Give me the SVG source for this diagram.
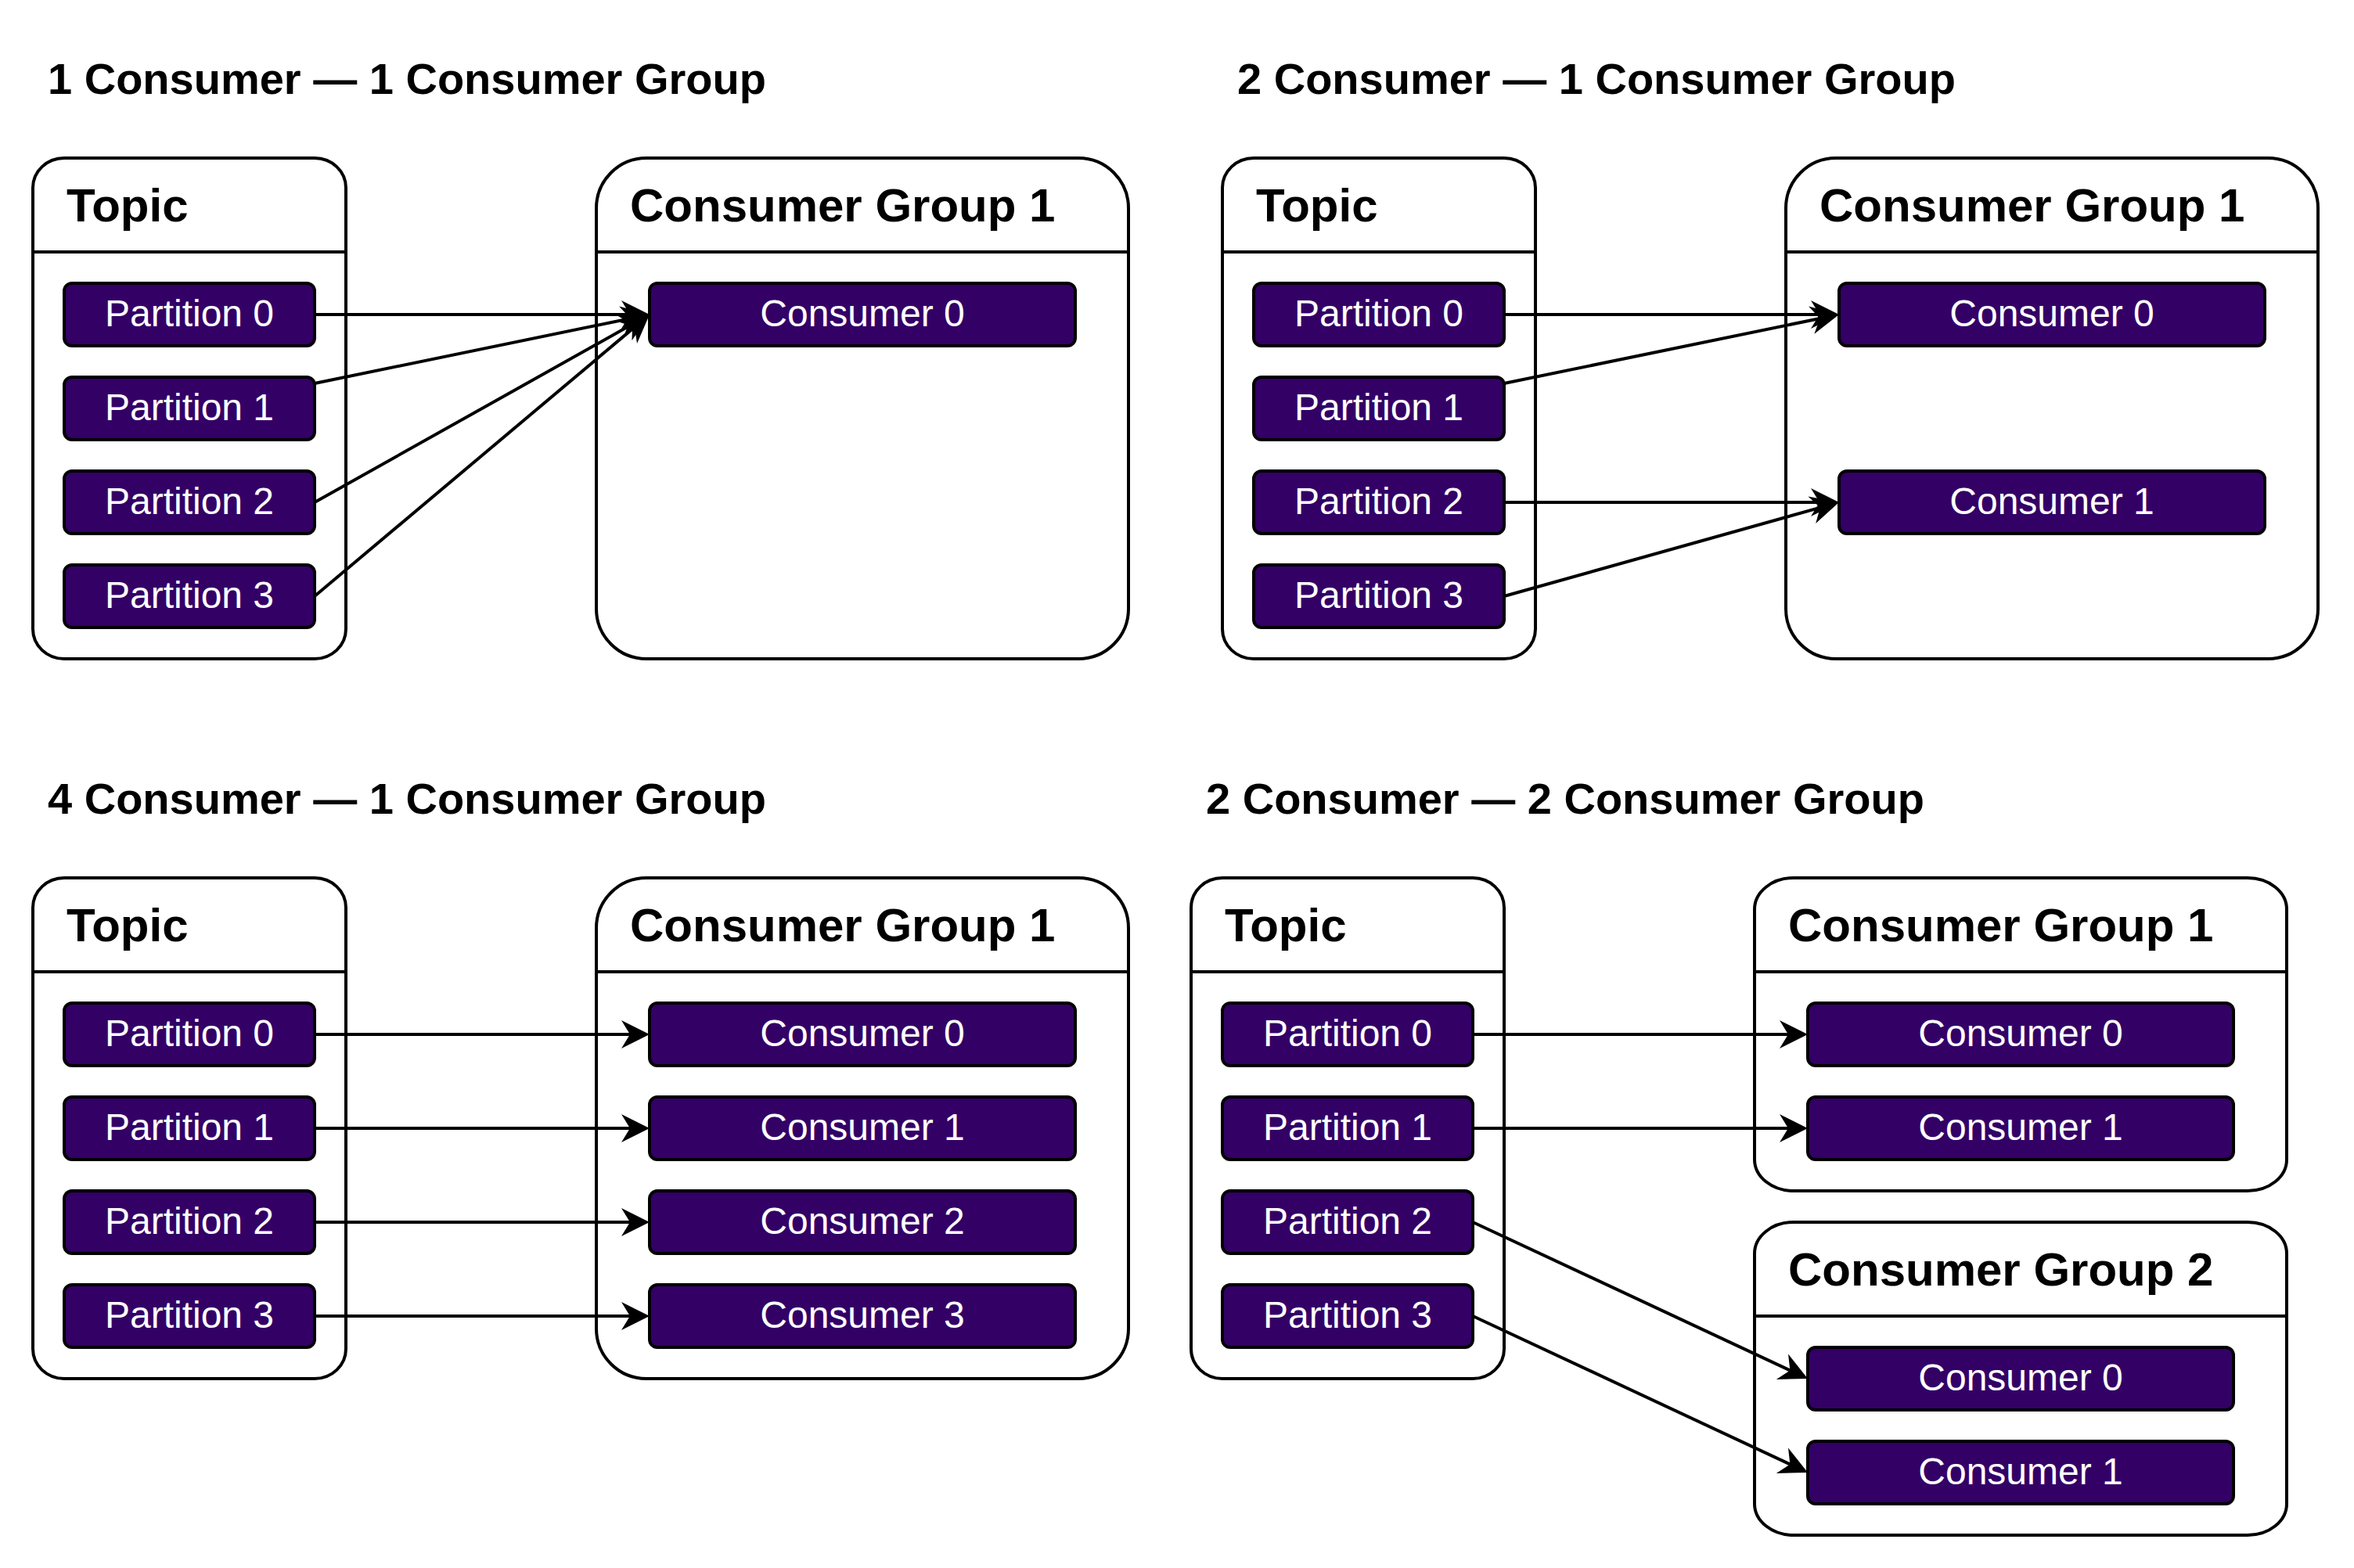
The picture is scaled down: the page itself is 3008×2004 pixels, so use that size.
<svg xmlns="http://www.w3.org/2000/svg" width="3008" height="2004" viewBox="0 0 3008 2004">
<defs>
<style>
.title{font-family:"Liberation Sans",Arial,sans-serif;font-weight:bold;font-size:56px;fill:#000}
.hdr{font-family:"Liberation Sans",Arial,sans-serif;font-weight:bold;font-size:60px;fill:#000}
.frame{fill:#fff;stroke:#000;stroke-width:4}
.sep{stroke:#000;stroke-width:4}
.item{fill:#330066;stroke:#000;stroke-width:4}
.lbl{font-family:"Liberation Sans",Arial,sans-serif;font-size:48px;fill:#fff;text-anchor:middle}
.edge{fill:none;stroke:#000;stroke-width:4}
</style>
<marker id="arr" markerUnits="userSpaceOnUse" markerWidth="60" markerHeight="60" viewBox="-30 -30 60 60" refX="0" refY="0" orient="auto" overflow="visible">
<path d="M20,0 L-16,-18 L-5,0 L-16,18 Z" fill="#000"/>
</marker>
</defs>
<rect width="3008" height="2004" fill="#fff"/>

<!-- Panel 1 -->
<text id="title1" class="title" x="61" y="120">1 Consumer — 1 Consumer Group</text>
<g id="p1-topic">
<rect class="frame" x="42" y="202" width="400" height="640" rx="40" ry="38"/>
<line class="sep" x1="42" y1="322" x2="442" y2="322"/>
<text class="hdr" x="85" y="283">Topic</text>
</g>
<g id="p1-part0"><rect class="item" x="82" y="362" width="320" height="80" rx="10"/><text class="lbl" x="242" y="417">Partition 0</text></g>
<g id="p1-part1"><rect class="item" x="82" y="482" width="320" height="80" rx="10"/><text class="lbl" x="242" y="537">Partition 1</text></g>
<g id="p1-part2"><rect class="item" x="82" y="602" width="320" height="80" rx="10"/><text class="lbl" x="242" y="657">Partition 2</text></g>
<g id="p1-part3"><rect class="item" x="82" y="722" width="320" height="80" rx="10"/><text class="lbl" x="242" y="777">Partition 3</text></g>
<g id="p1-cg1">
<rect class="frame" x="762" y="202" width="680" height="640" rx="64" ry="64"/>
<line class="sep" x1="762" y1="322" x2="1442" y2="322"/>
<text class="hdr" x="805" y="283">Consumer Group 1</text>
</g>
<g id="p1-cons0"><rect class="item" x="830" y="362" width="544" height="80" rx="10"/><text class="lbl" x="1102" y="417">Consumer 0</text></g>

<!-- Panel 2 -->
<text id="title2" class="title" x="1581" y="120">2 Consumer — 1 Consumer Group</text>
<g id="p2-topic">
<rect class="frame" x="1562" y="202" width="400" height="640" rx="40" ry="38"/>
<line class="sep" x1="1562" y1="322" x2="1962" y2="322"/>
<text class="hdr" x="1605" y="283">Topic</text>
</g>
<g id="p2-part0"><rect class="item" x="1602" y="362" width="320" height="80" rx="10"/><text class="lbl" x="1762" y="417">Partition 0</text></g>
<g id="p2-part1"><rect class="item" x="1602" y="482" width="320" height="80" rx="10"/><text class="lbl" x="1762" y="537">Partition 1</text></g>
<g id="p2-part2"><rect class="item" x="1602" y="602" width="320" height="80" rx="10"/><text class="lbl" x="1762" y="657">Partition 2</text></g>
<g id="p2-part3"><rect class="item" x="1602" y="722" width="320" height="80" rx="10"/><text class="lbl" x="1762" y="777">Partition 3</text></g>
<g id="p2-cg1">
<rect class="frame" x="2282" y="202" width="680" height="640" rx="64" ry="64"/>
<line class="sep" x1="2282" y1="322" x2="2962" y2="322"/>
<text class="hdr" x="2325" y="283">Consumer Group 1</text>
</g>
<g id="p2-cons0"><rect class="item" x="2350" y="362" width="544" height="80" rx="10"/><text class="lbl" x="2622" y="417">Consumer 0</text></g>
<g id="p2-cons1"><rect class="item" x="2350" y="602" width="544" height="80" rx="10"/><text class="lbl" x="2622" y="657">Consumer 1</text></g>

<!-- Panel 3 -->
<text id="title3" class="title" x="61" y="1040">4 Consumer — 1 Consumer Group</text>
<g id="p3-topic">
<rect class="frame" x="42" y="1122" width="400" height="640" rx="40" ry="38"/>
<line class="sep" x1="42" y1="1242" x2="442" y2="1242"/>
<text class="hdr" x="85" y="1203">Topic</text>
</g>
<g id="p3-part0"><rect class="item" x="82" y="1282" width="320" height="80" rx="10"/><text class="lbl" x="242" y="1337">Partition 0</text></g>
<g id="p3-part1"><rect class="item" x="82" y="1402" width="320" height="80" rx="10"/><text class="lbl" x="242" y="1457">Partition 1</text></g>
<g id="p3-part2"><rect class="item" x="82" y="1522" width="320" height="80" rx="10"/><text class="lbl" x="242" y="1577">Partition 2</text></g>
<g id="p3-part3"><rect class="item" x="82" y="1642" width="320" height="80" rx="10"/><text class="lbl" x="242" y="1697">Partition 3</text></g>
<g id="p3-cg1">
<rect class="frame" x="762" y="1122" width="680" height="640" rx="64" ry="64"/>
<line class="sep" x1="762" y1="1242" x2="1442" y2="1242"/>
<text class="hdr" x="805" y="1203">Consumer Group 1</text>
</g>
<g id="p3-cons0"><rect class="item" x="830" y="1282" width="544" height="80" rx="10"/><text class="lbl" x="1102" y="1337">Consumer 0</text></g>
<g id="p3-cons1"><rect class="item" x="830" y="1402" width="544" height="80" rx="10"/><text class="lbl" x="1102" y="1457">Consumer 1</text></g>
<g id="p3-cons2"><rect class="item" x="830" y="1522" width="544" height="80" rx="10"/><text class="lbl" x="1102" y="1577">Consumer 2</text></g>
<g id="p3-cons3"><rect class="item" x="830" y="1642" width="544" height="80" rx="10"/><text class="lbl" x="1102" y="1697">Consumer 3</text></g>

<!-- Panel 4 -->
<text id="title4" class="title" x="1541" y="1040">2 Consumer — 2 Consumer Group</text>
<g id="p4-topic">
<rect class="frame" x="1522" y="1122" width="400" height="640" rx="40" ry="38"/>
<line class="sep" x1="1522" y1="1242" x2="1922" y2="1242"/>
<text class="hdr" x="1565" y="1203">Topic</text>
</g>
<g id="p4-part0"><rect class="item" x="1562" y="1282" width="320" height="80" rx="10"/><text class="lbl" x="1722" y="1337">Partition 0</text></g>
<g id="p4-part1"><rect class="item" x="1562" y="1402" width="320" height="80" rx="10"/><text class="lbl" x="1722" y="1457">Partition 1</text></g>
<g id="p4-part2"><rect class="item" x="1562" y="1522" width="320" height="80" rx="10"/><text class="lbl" x="1722" y="1577">Partition 2</text></g>
<g id="p4-part3"><rect class="item" x="1562" y="1642" width="320" height="80" rx="10"/><text class="lbl" x="1722" y="1697">Partition 3</text></g>
<g id="p4-cg1">
<rect class="frame" x="2242" y="1122" width="680" height="400" rx="50" ry="40"/>
<line class="sep" x1="2242" y1="1242" x2="2922" y2="1242"/>
<text class="hdr" x="2285" y="1203">Consumer Group 1</text>
</g>
<g id="p4-cg1-cons0"><rect class="item" x="2310" y="1282" width="544" height="80" rx="10"/><text class="lbl" x="2582" y="1337">Consumer 0</text></g>
<g id="p4-cg1-cons1"><rect class="item" x="2310" y="1402" width="544" height="80" rx="10"/><text class="lbl" x="2582" y="1457">Consumer 1</text></g>
<g id="p4-cg2">
<rect class="frame" x="2242" y="1562" width="680" height="400" rx="50" ry="40"/>
<line class="sep" x1="2242" y1="1682" x2="2922" y2="1682"/>
<text class="hdr" x="2285" y="1643">Consumer Group 2</text>
</g>
<g id="p4-cg2-cons0"><rect class="item" x="2310" y="1722" width="544" height="80" rx="10"/><text class="lbl" x="2582" y="1777">Consumer 0</text></g>
<g id="p4-cg2-cons1"><rect class="item" x="2310" y="1842" width="544" height="80" rx="10"/><text class="lbl" x="2582" y="1897">Consumer 1</text></g>

<!-- Connectors -->
<g id="connectors" class="edge" marker-end="url(#arr)">
<line x1="402" y1="402" x2="810" y2="402" marker-end="url(#arr)"/>
<line x1="402" y1="490" x2="810.4" y2="406" marker-end="url(#arr)"/>
<line x1="402" y1="642" x2="812.6" y2="411.8" marker-end="url(#arr)"/>
<line x1="402" y1="762" x2="814.7" y2="414.9" marker-end="url(#arr)"/>

<line x1="1922" y1="402" x2="2330" y2="402" marker-end="url(#arr)"/>
<line x1="1922" y1="490" x2="2330.4" y2="406" marker-end="url(#arr)"/>
<line x1="1922" y1="642" x2="2330" y2="642" marker-end="url(#arr)"/>
<line x1="1922" y1="762" x2="2330.7" y2="647.4" marker-end="url(#arr)"/>

<line x1="402" y1="1322" x2="810" y2="1322" marker-end="url(#arr)"/>
<line x1="402" y1="1442" x2="810" y2="1442" marker-end="url(#arr)"/>
<line x1="402" y1="1562" x2="810" y2="1562" marker-end="url(#arr)"/>
<line x1="402" y1="1682" x2="810" y2="1682" marker-end="url(#arr)"/>

<line x1="1882" y1="1322" x2="2290" y2="1322" marker-end="url(#arr)"/>
<line x1="1882" y1="1442" x2="2290" y2="1442" marker-end="url(#arr)"/>
<line x1="1882" y1="1562" x2="2291.9" y2="1753.5" marker-end="url(#arr)"/>
<line x1="1882" y1="1682" x2="2291.9" y2="1873.5" marker-end="url(#arr)"/>
</g>
</svg>
